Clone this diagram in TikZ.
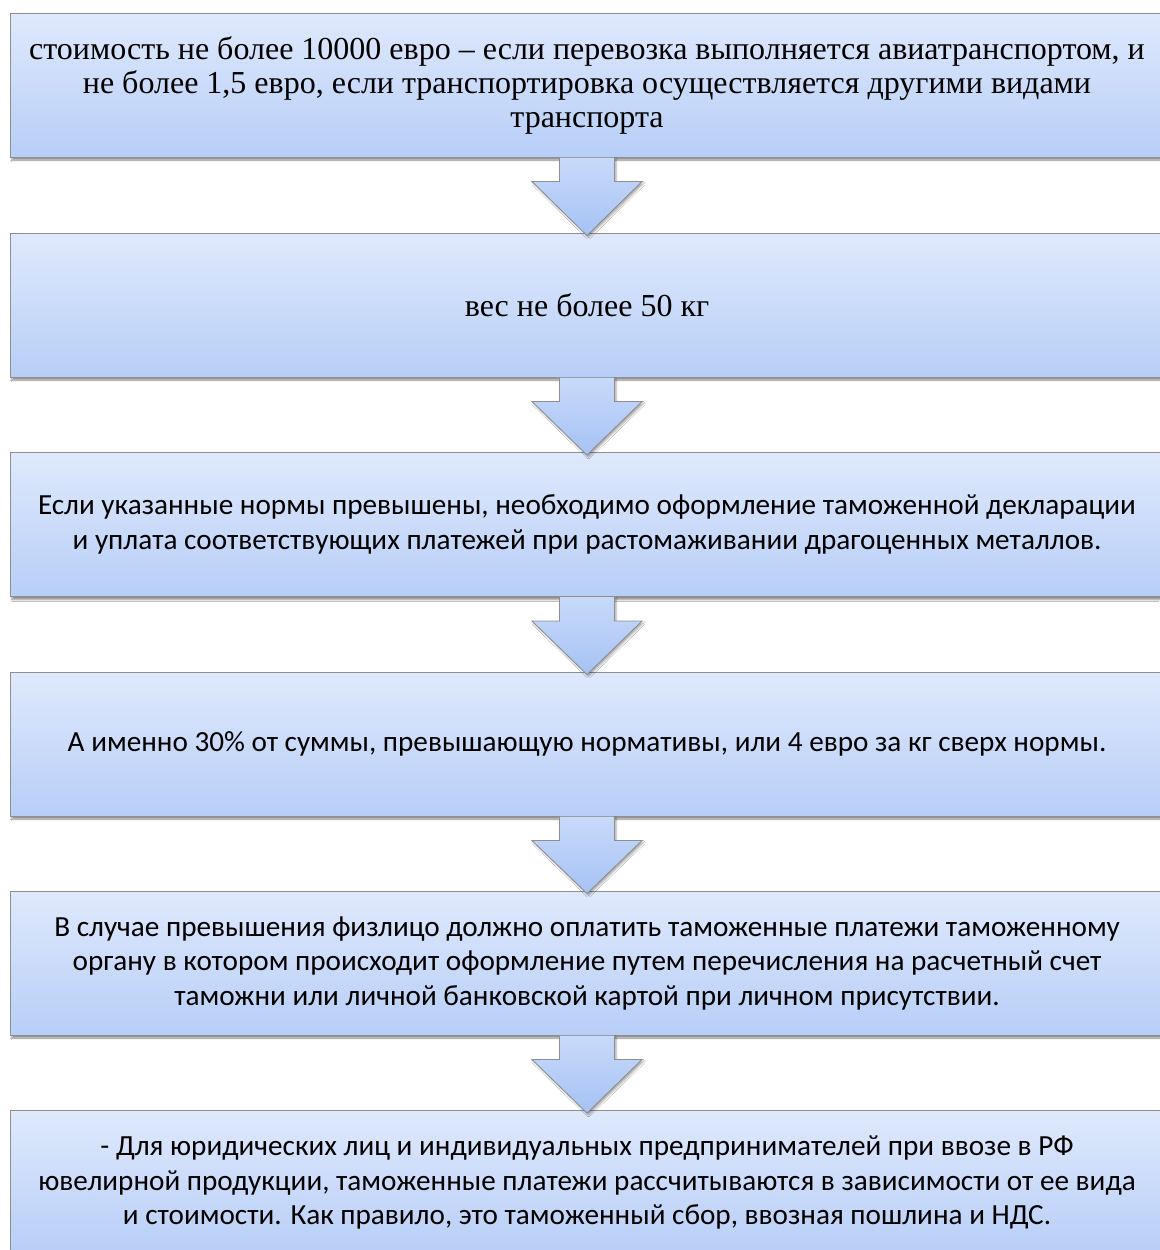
\documentclass[tikz,border=0pt]{standalone}
\usepackage{fontspec}
\setmainfont{Liberation Serif}
\newfontfamily\calfont{Carlito}
\usetikzlibrary{calc,shadows.blur}
\definecolor{boxtop}{HTML}{DFE9FC}
\definecolor{boxbot}{HTML}{B7CEF7}
\definecolor{arrtop}{HTML}{C8DAFA}
\definecolor{arrbot}{HTML}{A6C2F4}
\definecolor{edge}{HTML}{8E8E8E}
\begin{document}
\begin{tikzpicture}[x=1pt,y=-1pt,
  stepbox/.style={rectangle, draw=edge, line width=1pt, top color=boxtop, bottom color=boxbot,
    minimum width=1154pt, minimum height=144pt, inner sep=0pt, align=center,
    blur shadow={shadow xshift=2pt, shadow yshift=-3pt, shadow blur steps=6, shadow opacity=45}},
  serif/.style={font=\fontsize{32}{34}\selectfont},
  sans/.style={font=\calfont\fontsize{29.2}{34.5}\selectfont},
  arrfill/.style={top color=arrtop, bottom color=arrbot, draw=none,
    blur shadow={shadow xshift=1.5pt, shadow yshift=-2pt, shadow blur steps=4, shadow opacity=35}},
  arredge/.style={draw=edge, line width=0.8pt, line join=miter}]
\useasboundingbox (0,0) rectangle (1159,1250);
\fill[white] (0,0) rectangle (1159,1250);

\node[stepbox, serif] (b1) at (587,85) {стоимость не более 10000 евро – если перевозка выполняется авиатранспортом, и\\не более 1,5 евро, если транспортировка осуществляется другими видами\\транспорта};
\node[stepbox, serif] (b2) at (587,305) {вес не более 50 кг};
\node[stepbox, sans] (b3) at (587,524.5) {Если указанные нормы превышены, необходимо оформление таможенной декларации\\и уплата соответствующих платежей при растомаживании драгоценных металлов.};
\node[stepbox, sans] (b4) at (587,744) {А именно 30\% от суммы, превышающую нормативы, или 4 евро за кг сверх нормы.};
\node[stepbox, sans] (b5) at (587,963) {В случае превышения физлицо должно оплатить таможенные платежи таможенному\\органу в котором происходит оформление путем перечисления на расчетный счет\\таможни или личной банковской картой при личном присутствии.};
\node[stepbox, sans] (b6) at (587,1182.5) {- Для юридических лиц и индивидуальных предпринимателей при ввозе в РФ\\ювелирной продукции, таможенные платежи рассчитываются в зависимости от ее вида\\и стоимости. Как правило, это таможенный сбор, ввозная пошлина и НДС.};

\foreach \a/\b in {b1/b2, b2/b3, b3/b4, b4/b5, b5/b6}{
  \coordinate (s1) at ($(\a.south)+(-27.5,0)$);
  \coordinate (s2) at ($(\a.south)+(27.5,0)$);
  \coordinate (h1) at ($(\a.south)+(-27.5,24)$);
  \coordinate (h2) at ($(\a.south)+(27.5,24)$);
  \coordinate (w1) at ($(\a.south)+(-55,24)$);
  \coordinate (w2) at ($(\a.south)+(55,24)$);
  \coordinate (tip) at ($(\b.north)+(0,3)$);
  \path[arrfill] (s1) -- (h1) -- (w1) -- (tip) -- (w2) -- (h2) -- (s2) -- cycle;
  \draw[arredge] (s1) -- (h1) -- (w1) -- (tip) -- (w2) -- (h2) -- (s2);
}
\end{tikzpicture}
\end{document}
